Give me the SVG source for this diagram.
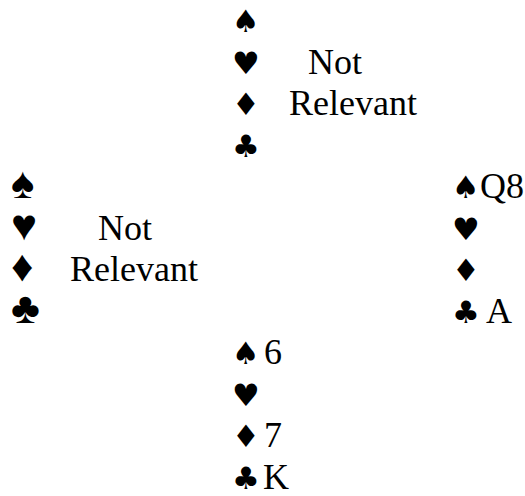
<svg xmlns="http://www.w3.org/2000/svg" width="525" height="496" viewBox="0 0 525 496">
<rect width="525" height="496" fill="#fff"/>
<g id="north">
<text font-family="Liberation Serif" font-size="36" x="232" y="32"><tspan font-family="DejaVu Sans" font-size="31">♠</tspan></text>
<text font-family="Liberation Serif" font-size="36" x="232" y="73.5"><tspan font-family="DejaVu Sans" font-size="31">♥</tspan><tspan x="308">Not</tspan></text>
<text font-family="Liberation Serif" font-size="36" x="232" y="115"><tspan font-family="DejaVu Sans" font-size="31">♦</tspan><tspan x="289">Relevant</tspan></text>
<text font-family="Liberation Serif" font-size="36" x="232" y="156.5"><tspan font-family="DejaVu Sans" font-size="31">♣</tspan></text>
</g>
<g id="west" font-family="Liberation Serif">
<text font-family="Liberation Serif" font-size="44" x="11" y="198">♠</text>
<text font-family="Liberation Serif" font-size="44" x="11" y="239.5">♥</text>
<text font-family="Liberation Serif" font-size="44" x="11" y="281">♦</text>
<text font-family="Liberation Serif" font-size="44" x="11" y="322.5">♣</text>
<text font-family="Liberation Serif" font-size="36" x="98" y="239.5">Not</text>
<text font-family="Liberation Serif" font-size="36" x="70" y="281">Relevant</text>
</g>
<g id="east">
<text font-family="DejaVu Sans" font-size="31" x="452" y="198">♠</text>
<text font-family="DejaVu Sans" font-size="31" x="452" y="239.5">♥</text>
<text font-family="DejaVu Sans" font-size="31" x="452" y="281">♦</text>
<text font-family="DejaVu Sans" font-size="31" x="452" y="322.5">♣</text>
<text font-family="Liberation Serif" font-size="36" x="480" y="198">Q8</text>
<text font-family="Liberation Serif" font-size="36" x="486" y="322.5">A</text>
</g>
<g id="south">
<text font-family="DejaVu Sans" font-size="31" x="232" y="364">♠</text>
<text font-family="DejaVu Sans" font-size="31" x="232" y="405.5">♥</text>
<text font-family="DejaVu Sans" font-size="31" x="232" y="447">♦</text>
<text font-family="DejaVu Sans" font-size="31" x="232" y="488.5">♣</text>
<text font-family="Times New Roman" font-size="36" x="264" y="364">6</text>
<text font-family="Times New Roman" font-size="36" x="264" y="447">7</text>
<text font-family="Times New Roman" font-size="36" x="263" y="488.5">K</text>
</g>
</svg>
